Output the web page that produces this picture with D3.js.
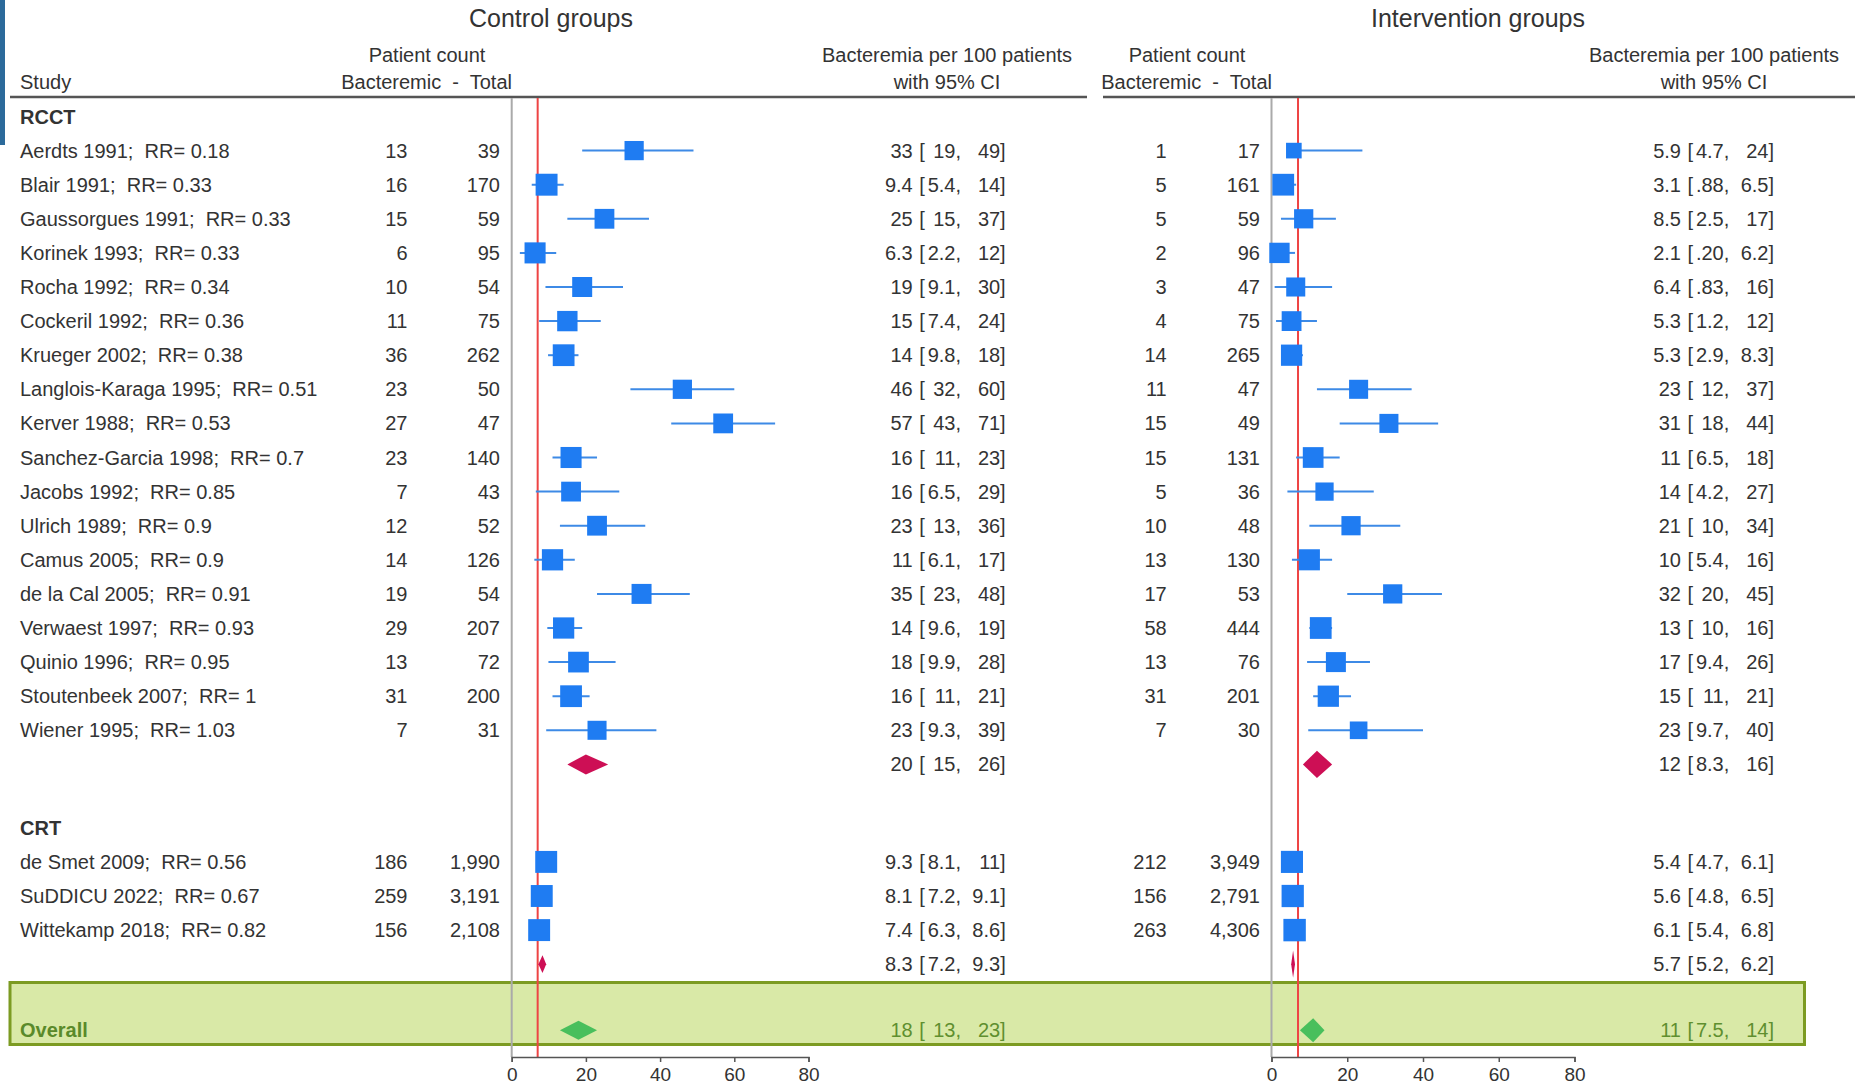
<!DOCTYPE html>
<html>
<head>
<meta charset="utf-8">
<script src="https://cdn.jsdelivr.net/npm/d3@7"></script>
<style>
  html, body { margin: 0; padding: 0; background: #ffffff; }
  svg text { font-family: "Liberation Sans", Arial, Helvetica, sans-serif; fill: #333333; white-space: pre; }
</style>
</head>
<body>
<svg id="chart" width="1863" height="1088"></svg>
<script>
// ---- Study data -------------------------------------------------------
const rcctStudies = ["Aerdts 1991", "Blair 1991", "Gaussorgues 1991", "Korinek 1993", "Rocha 1992",
  "Cockeril 1992", "Krueger 2002", "Langlois-Karaga 1995", "Kerver 1988", "Sanchez-Garcia 1998",
  "Jacobs 1992", "Ulrich 1989", "Camus 2005", "de la Cal 2005", "Verwaest 1997", "Quinio 1996",
  "Stoutenbeek 2007", "Wiener 1995"];
const rcctRR = [0.18, 0.33, 0.33, 0.33, 0.34, 0.36, 0.38, 0.51, 0.53, 0.7, 0.85, 0.9, 0.9, 0.91, 0.93, 0.95, 1, 1.03];

const crtStudies = ["de Smet 2009", "SuDDICU 2022", "Wittekamp 2018"];
const crtRR = [0.56, 0.67, 0.82];

// Control groups (RCCT studies first, then CRT studies)
const ctrlEvents = [13, 16, 15, 6, 10, 11, 36, 23, 27, 23, 7, 12, 14, 19, 29, 13, 31, 7, 186, 259, 156];
const ctrlTotal  = [39, 170, 59, 95, 54, 75, 262, 50, 47, 140, 43, 52, 126, 54, 207, 72, 200, 31, 1990, 3191, 2108];
const ctrlRate   = [33, 9.4, 25, 6.3, 19, 15, 14, 46, 57, 16, 16, 23, 11, 35, 14, 18, 16, 23, 9.3, 8.1, 7.4];
const ctrlLow    = [19, 5.4, 15, 2.2, 9.1, 7.4, 9.8, 32, 43, 11, 6.5, 13, 6.1, 23, 9.6, 9.9, 11, 9.3, 8.1, 7.2, 6.3];
const ctrlHigh   = [49, 14, 37, 12, 30, 24, 18, 60, 71, 23, 29, 36, 17, 48, 19, 28, 21, 39, 11, 9.1, 8.6];
const ctrlWeight = [5.0, 6.5, 5.3, 6.0, 5.4, 5.6, 6.4, 5.0, 5.3, 6.0, 5.3, 5.3, 6.1, 5.4, 6.1, 5.8, 6.4, 4.9, 6.5, 6.5, 6.5];
// pooled estimates: RCCT, CRT, Overall  [rate, low, high]
const ctrlPooled = [[20, 15, 26], [8.3, 7.2, 9.3], [18, 13, 23]];

// Intervention groups
const intEvents = [1, 5, 5, 2, 3, 4, 14, 11, 15, 15, 5, 10, 13, 17, 58, 13, 31, 7, 212, 156, 263];
const intTotal  = [17, 161, 59, 96, 47, 75, 265, 47, 49, 131, 36, 48, 130, 53, 444, 76, 201, 30, 3949, 2791, 4306];
const intRate   = [5.9, 3.1, 8.5, 2.1, 6.4, 5.3, 5.3, 23, 31, 11, 14, 21, 10, 32, 13, 17, 15, 23, 5.4, 5.6, 6.1];
const intLow    = [4.7, 0.88, 2.5, 0.20, 0.83, 1.2, 2.9, 12, 18, 6.5, 4.2, 10, 5.4, 20, 10, 9.4, 11, 9.7, 4.7, 4.8, 5.4];
const intHigh   = [24, 6.5, 17, 6.2, 16, 12, 8.3, 37, 44, 18, 27, 34, 16, 45, 16, 26, 21, 40, 6.1, 6.5, 6.8];
const intWeight = [3.3, 6.4, 5.0, 5.6, 4.9, 5.3, 6.1, 4.9, 4.9, 5.8, 4.5, 5.0, 6.0, 5.0, 6.4, 5.4, 6.1, 4.2, 6.6, 6.7, 6.8];
const intPooled = [[12, 8.3, 16], [5.7, 5.2, 6.2], [11, 7.5, 14]];

const groupNames = ["RCCT", "CRT"];
const referenceRate = 7;
const axisTicks = [0, 20, 40, 60, 80];

// ---- Layout ------------------------------------------------------------
const svg = d3.select("#chart");
const FS = 20;
const rowStep = 34.1;
const fmt2 = v => d3.format(".2r")(v).replace(/^0\./, ".");
const fmtCount = d3.format(",");

// vertical positions of every row
const rows = [];
let y = 116.5;
rows.push({ type: "header", label: groupNames[0], y });
rcctStudies.forEach((s, i) => { y += rowStep; rows.push({ type: "study", label: `${s};  RR= ${rcctRR[i]}`, idx: i, y }); });
y += rowStep; rows.push({ type: "pooled", idx: 0, y });
y += 63.4; rows.push({ type: "header", label: groupNames[1], y });
crtStudies.forEach((s, i) => { y += rowStep; rows.push({ type: "study", label: `${s};  RR= ${crtRR[i]}`, idx: rcctStudies.length + i, y }); });
y += rowStep; rows.push({ type: "pooled", idx: 1, y });
y += 66; rows.push({ type: "overall", idx: 2, y });

const headerLineY = 97;
const axisY = 1057;

const panels = [
  {
    title: "Control groups", titleX: 551,
    x: d3.scaleLinear().domain([0, 80]).range([511.7, 808.5]),
    events: ctrlEvents, total: ctrlTotal, rate: ctrlRate, low: ctrlLow, high: ctrlHigh, weight: ctrlWeight, pooled: ctrlPooled,
    countX: [407.5, 500], countHeadX: 427, countHeadRight: 512,
    ciX: 916.7, ciHeadX: 947,
    lineX: [10, 1087],
    diamondH: [20, 17.7, 19]
  },
  {
    title: "Intervention groups", titleX: 1478,
    x: d3.scaleLinear().domain([0, 80]).range([1271.5, 1574.5]),
    events: intEvents, total: intTotal, rate: intRate, low: intLow, high: intHigh, weight: intWeight, pooled: intPooled,
    countX: [1166.7, 1260], countHeadX: 1187, countHeadRight: 1272,
    ciX: 1685, ciHeadX: 1714,
    lineX: [1103, 1855],
    diamondH: [27.3, 27.3, 24]
  }
];

const boxSize = d3.scaleSqrt().domain([0, 10]).range([0, 27.2]);

// decorative edge strip
svg.append("rect").attr("x", 0).attr("y", 0).attr("width", 5).attr("height", 145).attr("fill", "#2c6a9b");

// Overall highlight band
svg.append("rect")
  .attr("x", 10).attr("y", 982.5).attr("width", 1794.5).attr("height", 62)
  .attr("fill", "#d9e9a7").attr("stroke", "#7c9b22").attr("stroke-width", 3);

// Left column: study labels
svg.append("text").attr("x", 20).attr("y", 82).attr("dy", "0.35em").attr("font-size", FS).text("Study");
rows.forEach(r => {
  if (r.type === "header") {
    svg.append("text").attr("x", 20).attr("y", r.y).attr("dy", "0.35em")
      .attr("font-size", FS).attr("font-weight", "bold").text(r.label);
  } else if (r.type === "study") {
    svg.append("text").attr("x", 20).attr("y", r.y).attr("dy", "0.35em")
      .attr("font-size", FS).text(r.label);
  } else if (r.type === "overall") {
    svg.append("text").attr("x", 20).attr("y", r.y).attr("dy", "0.35em")
      .attr("font-size", FS).attr("font-weight", "bold").style("fill", "#5a8a2a").text("Overall");
  }
});

// "est [ low,  high]" laid out in right-aligned columns
function drawCI(g, yy, est, lo, hi, ax, color) {
  const t = (x, anchor, s) => g.append("text").attr("x", x).attr("y", yy).attr("dy", "0.35em")
    .attr("font-size", FS).attr("text-anchor", anchor).style("fill", color).text(s);
  t(ax - 4, "end", fmt2(est));
  t(ax + 2.6, "start", "[");
  t(ax + 44.3, "end", fmt2(lo) + ",");
  t(ax + 89, "end", fmt2(hi) + "]");
}

panels.forEach(p => {
  const g = svg.append("g");
  const x = p.x;

  g.append("text").attr("x", p.titleX).attr("y", 18).attr("dy", "0.35em")
    .attr("text-anchor", "middle").attr("font-size", 25).text(p.title);
  g.append("text").attr("x", p.countHeadX).attr("y", 55).attr("dy", "0.35em")
    .attr("text-anchor", "middle").attr("font-size", FS).text("Patient count");
  g.append("text").attr("x", p.countHeadRight).attr("y", 82).attr("dy", "0.35em")
    .attr("text-anchor", "end").attr("font-size", FS).text("Bacteremic  -  Total");
  g.append("text").attr("x", p.ciHeadX).attr("y", 55).attr("dy", "0.35em")
    .attr("text-anchor", "middle").attr("font-size", FS).text("Bacteremia per 100 patients");
  g.append("text").attr("x", p.ciHeadX).attr("y", 82).attr("dy", "0.35em")
    .attr("text-anchor", "middle").attr("font-size", FS).text("with 95% CI");

  g.append("line").attr("x1", p.lineX[0]).attr("x2", p.lineX[1])
    .attr("y1", headerLineY).attr("y2", headerLineY)
    .attr("stroke", "#555555").attr("stroke-width", 2.5);

  // zero line and reference line
  g.append("line").attr("x1", x(0)).attr("x2", x(0)).attr("y1", headerLineY + 1).attr("y2", axisY)
    .attr("stroke", "#aaaaaa").attr("stroke-width", 2);
  g.append("line").attr("x1", x(referenceRate)).attr("x2", x(referenceRate)).attr("y1", headerLineY + 1).attr("y2", axisY)
    .attr("stroke", "#ee4444").attr("stroke-width", 2);

  // axis
  const axis = d3.axisBottom(x).tickValues(axisTicks).tickSize(5).tickPadding(6).tickFormat(d3.format("d"));
  const ag = g.append("g").attr("transform", `translate(0,${axisY})`).call(axis);
  ag.select(".domain").attr("stroke", "#555555").attr("stroke-width", 1.5);
  ag.selectAll(".tick line").attr("stroke", "#555555").attr("stroke-width", 1.5);
  ag.selectAll(".tick text").attr("font-size", 19).style("fill", "#333333")
    .attr("font-family", "'Liberation Sans', Arial, sans-serif");

  const studyRows = rows.filter(r => r.type === "study");

  // counts
  studyRows.forEach(r => {
    g.append("text").attr("x", p.countX[0]).attr("y", r.y).attr("dy", "0.35em")
      .attr("text-anchor", "end").attr("font-size", FS).text(fmtCount(p.events[r.idx]));
    g.append("text").attr("x", p.countX[1]).attr("y", r.y).attr("dy", "0.35em")
      .attr("text-anchor", "end").attr("font-size", FS).text(fmtCount(p.total[r.idx]));
  });

  // confidence intervals
  g.selectAll(".ci").data(studyRows).join("line")
    .attr("x1", r => x(p.low[r.idx])).attr("x2", r => x(p.high[r.idx]))
    .attr("y1", r => r.y).attr("y2", r => r.y)
    .attr("stroke", "#3d8ae6").attr("stroke-width", 2);

  // weighted boxes
  g.selectAll(".box").data(studyRows).join("rect")
    .attr("x", r => x(p.rate[r.idx]) - boxSize(p.weight[r.idx]) / 2)
    .attr("y", r => r.y - boxSize(p.weight[r.idx]) / 2)
    .attr("width", r => boxSize(p.weight[r.idx]))
    .attr("height", r => boxSize(p.weight[r.idx]))
    .attr("fill", "#1f7cf2");

  studyRows.forEach(r => drawCI(g, r.y, p.rate[r.idx], p.low[r.idx], p.high[r.idx], p.ciX, "#333333"));

  // pooled diamonds
  rows.filter(r => r.type === "pooled" || r.type === "overall").forEach(r => {
    const [est, lo, hi] = p.pooled[r.idx];
    const h = p.diamondH[r.idx] / 2;
    const overall = r.type === "overall";
    g.append("path")
      .attr("d", `M${x(lo)},${r.y} L${x(est)},${r.y - h} L${x(hi)},${r.y} L${x(est)},${r.y + h} Z`)
      .attr("fill", overall ? "#49bf5c" : "#cd0f55");
    drawCI(g, r.y, est, lo, hi, p.ciX, overall ? "#5f8f2f" : "#333333");
  });
});
</script>
</body>
</html>
